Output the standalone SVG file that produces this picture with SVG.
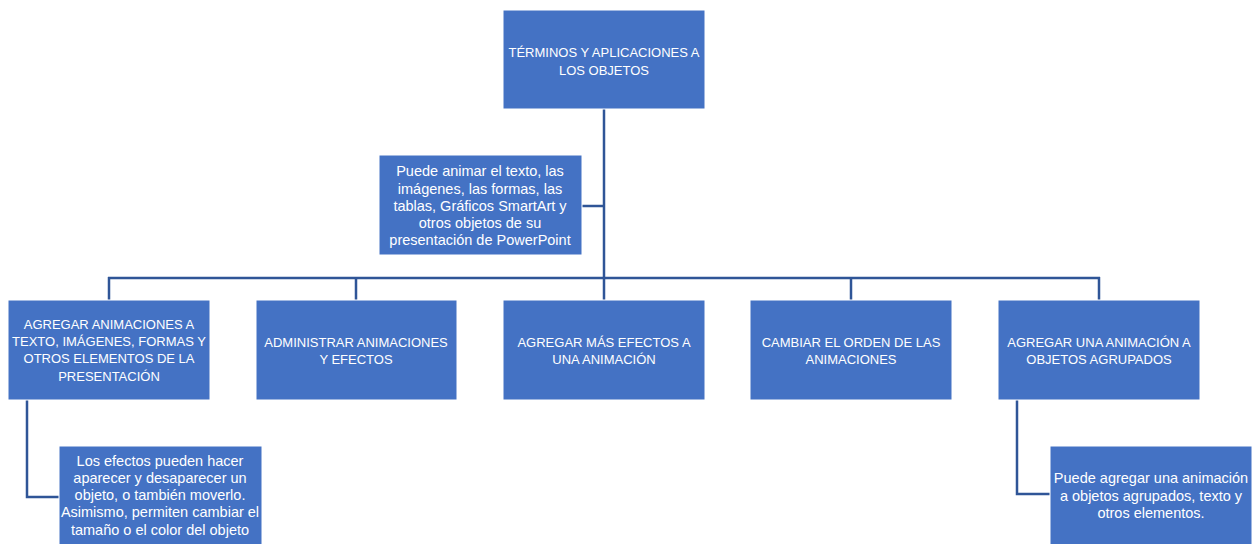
<svg xmlns="http://www.w3.org/2000/svg" width="1259" height="544" viewBox="0 0 1259 544">
<style>
.box{fill:#4472C4;stroke:#ffffff;stroke-width:1}
.t{font-family:"Liberation Sans",Arial,sans-serif;font-size:13px;fill:#ffffff;text-anchor:middle}
.s{font-size:14.5px}
.c{fill:none;stroke:#2F5597;stroke-width:2.5}
</style>
<rect width="1259" height="544" fill="#ffffff"/>
<g id="connectors">
<path class="c" d="M604 109V278"/>
<path class="c" d="M582 206H604"/>
<path class="c" d="M108 278H1100"/>
<path class="c" d="M109 277V300M356 277V300M604 277V300M851 277V300M1099 277V300"/>
<path class="c" d="M27 400V497H59"/>
<path class="c" d="M1017 400V494H1050"/>
</g>
<g id="root">
<rect class="box" x="503" y="10" width="202" height="99"/>
<text class="t" x="604" y="57">TÉRMINOS Y APLICACIONES A</text>
<text class="t" x="604" y="75">LOS OBJETOS</text>
</g>
<g id="assistant">
<rect class="box" x="379" y="155" width="203" height="100"/>
<text class="t s" x="480" y="176">Puede animar el texto, las</text>
<text class="t s" x="480" y="194">imágenes, las formas, las</text>
<text class="t s" x="480" y="211">tablas, Gráficos SmartArt y</text>
<text class="t s" x="480" y="228">otros objetos de su</text>
<text class="t s" x="480" y="245">presentación de PowerPoint</text>
</g>
<g id="n1">
<rect class="box" x="8" y="300" width="202" height="100"/>
<text class="t" x="109" y="329">AGREGAR ANIMACIONES A</text>
<text class="t" x="109" y="346">TEXTO, IMÁGENES, FORMAS Y</text>
<text class="t" x="109" y="363">OTROS ELEMENTOS DE LA</text>
<text class="t" x="109" y="381">PRESENTACIÓN</text>
</g>
<g id="n2">
<rect class="box" x="256" y="300" width="201" height="100"/>
<text class="t" x="356" y="347">ADMINISTRAR ANIMACIONES</text>
<text class="t" x="356" y="364">Y EFECTOS</text>
</g>
<g id="n3">
<rect class="box" x="503" y="300" width="202" height="100"/>
<text class="t" x="604" y="347">AGREGAR MÁS EFECTOS A</text>
<text class="t" x="604" y="364">UNA ANIMACIÓN</text>
</g>
<g id="n4">
<rect class="box" x="750" y="300" width="202" height="100"/>
<text class="t" x="851" y="347">CAMBIAR EL ORDEN DE LAS</text>
<text class="t" x="851" y="364">ANIMACIONES</text>
</g>
<g id="n5">
<rect class="box" x="998" y="300" width="202" height="100"/>
<text class="t" x="1099" y="347">AGREGAR UNA ANIMACIÓN A</text>
<text class="t" x="1099" y="364">OBJETOS AGRUPADOS</text>
</g>
<g id="c1">
<rect class="box" x="59" y="446" width="203" height="100"/>
<text class="t s" x="160" y="466">Los efectos pueden hacer</text>
<text class="t s" x="160" y="483">aparecer y desaparecer un</text>
<text class="t s" x="160" y="500">objeto, o también moverlo.</text>
<text class="t s" x="160" y="517">Asimismo, permiten cambiar el</text>
<text class="t s" x="160" y="535">tamaño o el color del objeto</text>
</g>
<g id="c5">
<rect class="box" x="1050" y="446" width="202" height="100"/>
<text class="t s" x="1151" y="483">Puede agregar una animación</text>
<text class="t s" x="1151" y="501">a objetos agrupados, texto y</text>
<text class="t s" x="1151" y="518">otros elementos.</text>
</g>
</svg>
